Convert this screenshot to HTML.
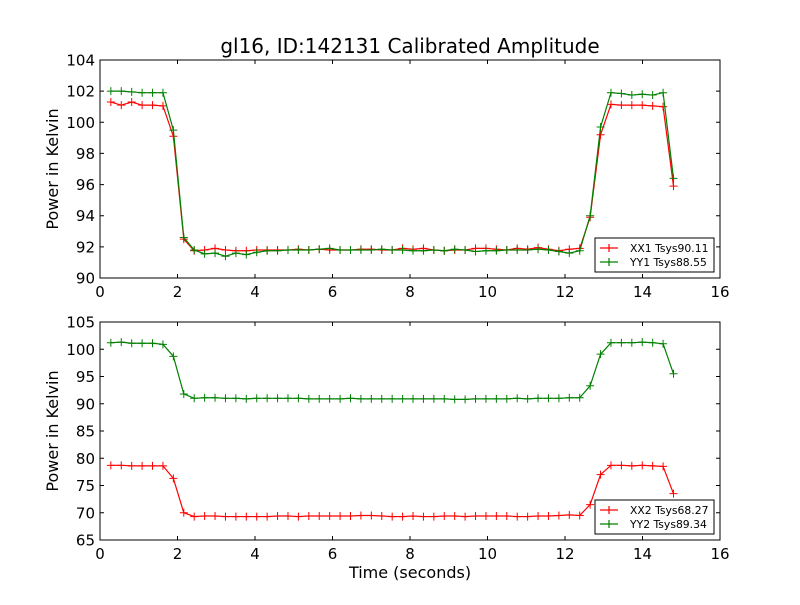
<!DOCTYPE html>
<html><head><meta charset="utf-8"><style>
body{margin:0;background:#fff;}
svg text{font-family:"DejaVu Sans","Liberation Sans",sans-serif;}
</style></head><body>
<svg id="chart" width="800" height="600" viewBox="0 0 800 600" xmlns="http://www.w3.org/2000/svg">
<rect width="800" height="600" fill="#fff"/>
<text x="410" y="53" font-size="20" text-anchor="middle">gl16, ID:142131 Calibrated Amplitude</text>
<g id="plots"></g>
</svg>
<script>
const xx1 = [101.3,101.1,101.3,101.1,101.1,101.05,99.1,92.5,91.75,91.8,91.9,91.8,91.75,91.75,91.8,91.8,91.8,91.8,91.85,91.8,91.85,91.8,91.8,91.8,91.85,91.85,91.8,91.8,91.9,91.85,91.9,91.8,91.75,91.8,91.8,91.9,91.9,91.85,91.8,91.9,91.85,91.95,91.85,91.75,91.85,91.9,93.9,99.2,101.15,101.1,101.1,101.1,101.05,101.0,95.9];
const yy1 = [102.0,102.0,101.95,101.9,101.9,101.9,99.5,92.6,91.8,91.55,91.6,91.4,91.6,91.5,91.65,91.75,91.75,91.8,91.8,91.8,91.85,91.9,91.8,91.8,91.8,91.8,91.85,91.8,91.8,91.75,91.75,91.8,91.75,91.85,91.8,91.7,91.75,91.75,91.8,91.8,91.8,91.85,91.8,91.7,91.6,91.75,94.0,99.7,101.9,101.85,101.75,101.8,101.75,101.9,96.4];
const xx2 = [78.7,78.7,78.6,78.6,78.6,78.6,76.3,70.0,69.3,69.4,69.4,69.3,69.3,69.3,69.3,69.3,69.4,69.4,69.3,69.4,69.4,69.4,69.4,69.4,69.5,69.5,69.4,69.3,69.3,69.4,69.3,69.3,69.4,69.4,69.3,69.4,69.4,69.4,69.4,69.3,69.3,69.4,69.4,69.5,69.6,69.5,71.5,77.0,78.7,78.7,78.6,78.7,78.6,78.5,73.5];
const yy2 = [101.2,101.3,101.1,101.1,101.1,100.9,98.7,91.8,91.0,91.1,91.1,91.0,91.0,90.9,91.0,91.0,91.0,91.0,91.0,90.9,90.9,90.9,90.9,91.0,90.9,90.9,90.9,90.9,90.9,90.9,90.9,90.9,90.9,90.8,90.8,90.9,90.9,90.9,90.9,91.0,90.9,91.0,91.0,91.0,91.1,91.1,93.3,99.1,101.2,101.2,101.2,101.3,101.2,101.0,95.5];
const times = xx1.map((_,i)=>0.28+i*(14.52/54));
const xTicks = [0,2,4,6,8,10,12,14,16];
const yTicksTop = [90,92,94,96,98,100,102,104];
const yTicksBot = [65,70,75,80,85,90,95,100,105];
const legendTop = ["XX1 Tsys90.11","YY1 Tsys88.55"];
const legendBot = ["XX2 Tsys68.27","YY2 Tsys89.34"];

const NS="http://www.w3.org/2000/svg";
const root=document.getElementById('plots');
function mk(tag,attrs,parent){const e=document.createElementNS(NS,tag);for(const k in attrs)e.setAttribute(k,attrs[k]);(parent||root).appendChild(e);return e;}

function panel(top,bottom,ymin,ymax,yTicks,series,legend,showXLabel,name){
  const L=100,R=720;
  const g=mk('g',{});
  
  
  const xs=v=>L+(v-0)/(16-0)*(R-L);
  const ys=v=>bottom-(v-ymin)/(ymax-ymin)*(bottom-top);
  const colors=['#ff0000','#008000'];
  series.forEach((s,si)=>{
    const pts=s.map((v,i)=>xs(times[i]).toFixed(2)+','+ys(v).toFixed(2)).join(' ');
    const pl=mk('polyline',{points:pts,fill:'none',stroke:colors[si],'stroke-width':1.2},g);
    
    
    s.forEach((v,i)=>{
      const x=xs(times[i]),y=ys(v);
      const m=mk('path',{d:`M${x-4},${y}H${x+4}M${x},${y-4}V${y+4}`,stroke:colors[si],'stroke-width':1},g);
      
      
    });
  });
  const fr=mk('rect',{x:L,y:top,width:R-L,height:bottom-top,fill:'none',stroke:'#000','stroke-width':1},g);
  
  
  xTicks.forEach(t=>{
    const x=xs(t);
    mk('path',{d:`M${x},${bottom}v-4M${x},${top}v4`,stroke:'#000'},g);
    const tx=mk('text',{x:x,y:bottom+19,'font-size':15,'text-anchor':'middle'},g);
    tx.textContent=t;
    
    
  });
  yTicks.forEach(t=>{
    const y=ys(t);
    mk('path',{d:`M${L},${y}h4M${R},${y}h-4`,stroke:'#000'},g);
    const tx=mk('text',{x:L-5,y:y+5.5,'font-size':15,'text-anchor':'end'},g);
    tx.textContent=t;
    
    
  });
  const yl=mk('text',{x:0,y:0,'font-size':16,'text-anchor':'middle',transform:`translate(58,${(top+bottom)/2}) rotate(-90)`},g);
  yl.textContent='Power in Kelvin';
  
  
  if(showXLabel){
    const xl=mk('text',{x:410,y:578,'font-size':16,'text-anchor':'middle'},g);
    xl.textContent='Time (seconds)';
    
    
  }
  const lg=mk('g',{},g);
  
  
  const ly=bottom-40;
  mk('rect',{x:595,y:ly,width:119,height:34,fill:'#fff',stroke:'#000','stroke-width':1},lg);
  legend.forEach((lab,i)=>{
    const yy=ly+10+i*14;
    mk('path',{d:`M600,${yy}h18M609,${yy-4}v8`,stroke:colors[i],'stroke-width':1.2},lg);
    const t=mk('text',{x:630,y:yy+4,'font-size':10.8},lg);
    t.textContent=lab;
    
    
  });
}
panel(60,278,90,104,yTicksTop,[xx1,yy1],legendTop,false,'top-panel');
panel(322,540,65,105,yTicksBot,[xx2,yy2],legendBot,true,'bottom-panel');
</script>
</body></html>
